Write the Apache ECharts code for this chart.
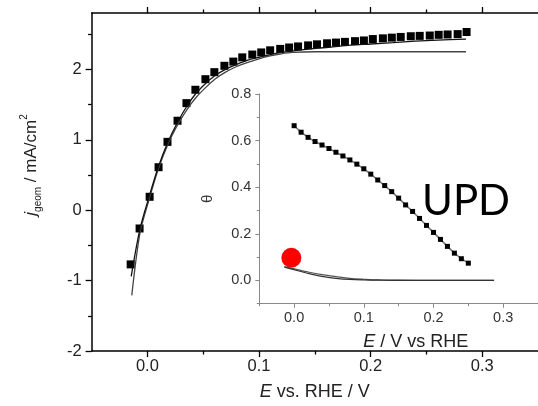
<!DOCTYPE html>
<html><head><meta charset="utf-8">
<script src="https://cdn.jsdelivr.net/npm/echarts@6/dist/echarts.min.js"></script>
<style>html,body{margin:0;padding:0;background:#fff}#c{width:538px;height:406px}</style>
</head><body><div id="c"></div>
<script>
// ---- main plot data ----
const mainE = [-0.015,-0.007,0.002,0.010,0.018,0.027,0.035,0.043,0.052,0.060,0.069,0.077,0.085,0.094,0.102,0.110,0.119,0.127,0.135,0.144,0.152,0.161,0.169,0.177,0.186,0.194,0.202,0.211,0.219,0.227,0.236,0.244,0.253,0.261,0.269,0.278,0.286];
const mainJ = [-0.77,-0.26,0.19,0.61,0.97,1.27,1.52,1.71,1.86,1.96,2.05,2.11,2.17,2.21,2.24,2.27,2.29,2.31,2.325,2.34,2.355,2.37,2.38,2.39,2.40,2.41,2.43,2.44,2.45,2.46,2.47,2.475,2.48,2.49,2.495,2.50,2.53];
const fit1E = [-0.0145,-0.0067,0.0015,0.0097,0.0185,0.0274,0.0359,0.0436,0.0521,0.0604,0.07,0.08,0.09,0.10,0.11,0.12,0.14,0.16,0.18,0.20,0.22,0.24,0.26,0.2855];
const fit1J = [-0.94,-0.27,0.19,0.61,0.97,1.26,1.49,1.66,1.80,1.91,2.00,2.07,2.13,2.17,2.21,2.24,2.28,2.31,2.34,2.36,2.38,2.40,2.415,2.43];
const fit2E = [-0.014,-0.0067,0.0015,0.0097,0.0185,0.0274,0.0359,0.0436,0.0521,0.0604,0.07,0.08,0.09,0.10,0.11,0.12,0.13,0.15,0.2855];
const fit2J = [-1.21,-0.33,0.15,0.58,0.94,1.22,1.44,1.60,1.74,1.86,1.96,2.04,2.10,2.15,2.19,2.22,2.24,2.25,2.25];
const mainXTicks = [0,0.1,0.2,0.3];
const mainXMinor = [0.05,0.15,0.25];
const mainYTicks = [-2,-1,0,1,2];
const mainYMinor = [-1.5,-0.5,0.5,1.5,2.5];
// ---- inset data ----
const insetE = [0,0.01,0.02,0.03,0.04,0.05,0.06,0.07,0.08,0.09,0.10,0.11,0.12,0.13,0.14,0.15,0.16,0.17,0.18,0.19,0.20,0.21,0.22,0.23,0.24,0.25];
const insetTheta = [0.664,0.636,0.614,0.596,0.581,0.566,0.55,0.534,0.517,0.499,0.479,0.456,0.431,0.407,0.381,0.353,0.324,0.296,0.266,0.236,0.206,0.176,0.146,0.117,0.093,0.074];
const lowAE = [-0.014,0,0.02,0.04,0.06,0.08,0.1,0.12,0.15,0.2,0.287];
const lowAT = [0.059,0.050,0.036,0.025,0.016,0.009,0.005,0.002,0.001,0,0];
const lowBE = [-0.014,0,0.02,0.04,0.06,0.08,0.1,0.12,0.15,0.287];
const lowBT = [0.057,0.046,0.030,0.017,0.009,0.004,0.002,0.001,0,0];
const redDot = [-0.004,0.097];
const insetXTicks = [0,0.1,0.2,0.3];
const insetXMinor = [-0.05,0.05,0.15,0.25,0.35];
const insetYTicks = [0,0.2,0.4,0.6,0.8];
const insetYMinor = [-0.1,0.1,0.3,0.5,0.7];

const zip = (a,b) => a.map((v,i)=>[v,b[i]]);
const FF = 'Liberation Sans, Arial, sans-serif';

function tickAxis(o){
  return Object.assign({
    type:'value', splitLine:{show:false},
    axisLine:{show:false, onZero:false}, axisLabel:{show:false}, axisTick:{show:false}
  }, o);
}

const chart = echarts.init(document.getElementById('c'), null, {renderer:'canvas'});
chart.setOption({
  animation:false,
  backgroundColor:'#fff',
  grid:[
    {left:91.6, top:13, width:453.3, height:339},
    {left:259.3, top:94, width:285.6, height:209.7}
  ],
  xAxis:[
    tickAxis({gridIndex:0, position:'bottom', min:-0.05, max:0.35,
      axisLine:{show:true, onZero:false, lineStyle:{color:'#000', width:1.5}},
      axisTick:{show:true, customValues:mainXTicks, length:6, lineStyle:{color:'#000', width:1.3}},
      axisLabel:{show:true, customValues:mainXTicks, formatter:v=>v.toFixed(1), fontSize:16.5, color:'#222', fontFamily:FF, margin:7},
      name:'{i|E}{n| vs. RHE / V}', nameLocation:'middle', nameGap:32,
      nameTextStyle:{rich:{i:{fontStyle:'italic', fontSize:18, fontFamily:FF, color:'#222'}, n:{fontSize:18, fontFamily:FF, color:'#222'}}}
    }),
    tickAxis({gridIndex:0, position:'bottom', min:-0.05, max:0.35,
      axisTick:{show:true, customValues:mainXMinor, length:3.5, lineStyle:{color:'#000', width:1.3}}}),
    tickAxis({gridIndex:0, position:'top', min:-0.05, max:0.35,
      axisLine:{show:true, onZero:false, lineStyle:{color:'#000', width:1.5}},
      axisTick:{show:true, customValues:mainXTicks, length:6, lineStyle:{color:'#000', width:1.3}}}),
    tickAxis({gridIndex:0, position:'top', min:-0.05, max:0.35,
      axisTick:{show:true, customValues:mainXMinor, length:3.5, lineStyle:{color:'#000', width:1.3}}}),
    tickAxis({gridIndex:1, position:'bottom', min:-0.05, max:0.35,
      axisLine:{show:true, onZero:false, lineStyle:{color:'#888', width:1}},
      axisTick:{show:true, customValues:insetXTicks, length:4, lineStyle:{color:'#888', width:1}},
      axisLabel:{show:true, customValues:insetXTicks, formatter:v=>v.toFixed(1), fontSize:14.5, color:'#333', fontFamily:FF, margin:7},
      name:'{i|E}{n| / V vs RHE}', nameLocation:'middle', nameGap:29,
      nameTextStyle:{padding:[0,0,0,34], rich:{i:{fontStyle:'italic', fontSize:18, fontFamily:FF, color:'#222'}, n:{fontSize:18, fontFamily:FF, color:'#222'}}}
    }),
    tickAxis({gridIndex:1, position:'bottom', min:-0.05, max:0.35,
      axisTick:{show:true, customValues:insetXMinor, length:2.5, lineStyle:{color:'#888', width:1}}})
  ],
  yAxis:[
    tickAxis({gridIndex:0, position:'left', min:-2, max:2.8,
      axisLine:{show:true, onZero:false, lineStyle:{color:'#000', width:1.5}},
      axisTick:{show:true, customValues:mainYTicks, length:6, lineStyle:{color:'#000', width:1.3}},
      axisLabel:{show:true, customValues:mainYTicks, formatter:v=>String(v), fontSize:16.5, color:'#222', fontFamily:FF, margin:10},
      name:'{i|j}{sub|geom}{n| / mA/cm}{sup|2}', nameLocation:'middle', nameGap:48,
      nameTextStyle:{padding:[0,0,0,34], rich:{
        i:{fontStyle:'italic', fontSize:17, fontFamily:FF, color:'#222', lineHeight:24},
        sub:{fontSize:10, fontFamily:FF, color:'#222', verticalAlign:'bottom', lineHeight:12},
        n:{fontSize:17, fontFamily:FF, color:'#222', lineHeight:24},
        sup:{fontSize:10, fontFamily:FF, color:'#222', verticalAlign:'top', lineHeight:10}
      }}
    }),
    tickAxis({gridIndex:0, position:'left', min:-2, max:2.8,
      axisTick:{show:true, customValues:mainYMinor, length:3.5, lineStyle:{color:'#000', width:1.3}}}),
    tickAxis({gridIndex:1, position:'left', min:-0.1, max:0.8,
      axisLine:{show:true, onZero:false, lineStyle:{color:'#888', width:1}},
      axisTick:{show:true, customValues:insetYTicks, length:4, lineStyle:{color:'#888', width:1}},
      axisLabel:{show:true, customValues:insetYTicks, formatter:v=>v.toFixed(1), fontSize:14.5, color:'#333', fontFamily:FF, margin:8},
      name:'θ', nameLocation:'middle', nameGap:44,
      nameTextStyle:{fontSize:15, fontFamily:FF, color:'#333'}
    }),
    tickAxis({gridIndex:1, position:'left', min:-0.1, max:0.8,
      axisTick:{show:true, customValues:insetYMinor, length:2.5, lineStyle:{color:'#888', width:1}}})
  ],
  series:[
    {type:'line', xAxisIndex:0, yAxisIndex:0, data:zip(fit2E,fit2J), showSymbol:false, symbol:'none', smooth:0.3,
      lineStyle:{color:'#444', width:1.3}},
    {type:'line', xAxisIndex:0, yAxisIndex:0, data:zip(fit1E,fit1J), showSymbol:false, symbol:'none', smooth:0.3,
      lineStyle:{color:'#111', width:1.3}},
    {type:'scatter', xAxisIndex:0, yAxisIndex:0, data:zip(mainE,mainJ), symbol:'rect', symbolSize:8,
      itemStyle:{color:'#000', opacity:1}},
    {type:'line', xAxisIndex:4, yAxisIndex:2, data:zip(lowAE,lowAT), symbol:'none', smooth:0.3,
      lineStyle:{color:'#555', width:1.2}},
    {type:'line', xAxisIndex:4, yAxisIndex:2, data:zip(lowBE,lowBT), symbol:'none', smooth:0.3,
      lineStyle:{color:'#333', width:1.2}},
    {type:'line', xAxisIndex:4, yAxisIndex:2, data:zip(insetE,insetTheta), symbol:'rect', symbolSize:5,
      showAllSymbol:true, lineStyle:{color:'#777', width:1.5}, itemStyle:{color:'#000', opacity:1}},
    {type:'scatter', xAxisIndex:4, yAxisIndex:2, data:[redDot], symbol:'circle', symbolSize:20,
      itemStyle:{color:'#ff0000', opacity:1}}
  ],
  graphic:[
    {type:'text', left:422, top:180, style:{text:'UPD', fontSize:42, fontFamily:'Lato, sans-serif', fill:'#000'}}
  ]
});
</script></body></html>
